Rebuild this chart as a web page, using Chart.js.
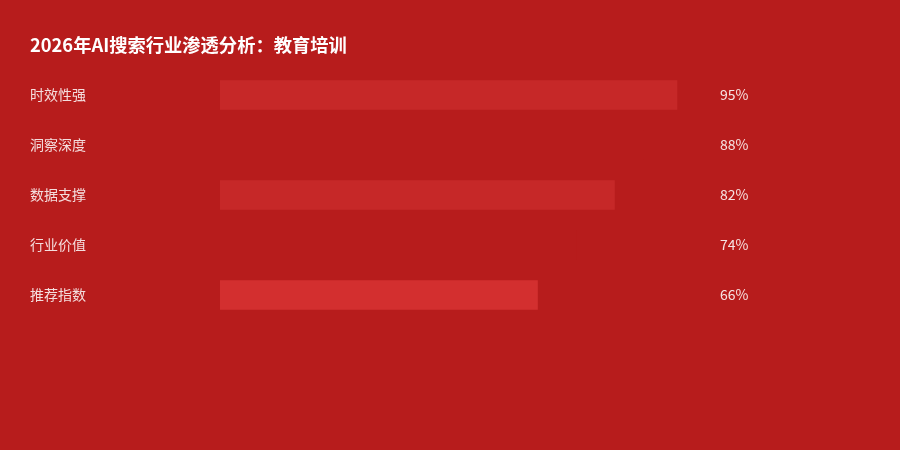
<!DOCTYPE html>
<html>
<head>
<meta charset="utf-8">
<script src="https://cdn.jsdelivr.net/npm/chart.js@4.4.1/dist/chart.umd.min.js"></script>
<style>
  html, body { margin: 0; padding: 0; background: #B71C1C; }
  #wrap { width: 900px; height: 450px; position: relative; }
</style>
</head>
<body>
<div id="wrap"><canvas id="c" width="900" height="450"></canvas></div>
<script>
const titleText = '2026年AI搜索行业渗透分析：教育培训';
const categories = ['时效性强', '洞察深度', '数据支撑', '行业价值', '推荐指数'];
const values = [95, 88, 82, 74, 66];
const barColors = ['#C62828', '#B71C1C', '#C62828', '#B71C1C', '#D32F2F'];

const FONT = '"Noto Sans CJK SC", "Noto Sans", sans-serif';

const valueLabels = {
  id: 'valueLabels',
  afterDatasetsDraw(chart) {
    const ctx = chart.ctx;
    const meta = chart.getDatasetMeta(0);
    const area = chart.chartArea;
    ctx.save();
    ctx.font = '14px ' + FONT;
    ctx.fillStyle = 'rgba(255,255,255,0.88)';
    ctx.textAlign = 'left';
    ctx.textBaseline = 'middle';
    meta.data.forEach((bar, i) => {
      ctx.fillText(values[i] + '%', area.right + 19, bar.y);
    });
    ctx.restore();
  }
};

new Chart(document.getElementById('c'), {
  type: 'bar',
  data: {
    labels: categories,
    datasets: [{
      data: values,
      backgroundColor: barColors,
      borderWidth: 0,
      barThickness: 29
    }]
  },
  options: {
    indexAxis: 'y',
    responsive: false,
    animation: false,
    layout: { padding: { left: 30, right: 199, top: 0, bottom: 130 } },
    plugins: {
      legend: { display: false },
      tooltip: { enabled: false },
      title: {
        display: true,
        text: titleText,
        align: 'start',
        color: '#FFFFFF',
        font: { family: FONT, size: 18.3, weight: 'bold' },
        padding: { top: 34, bottom: 14 }
      }
    },
    scales: {
      x: {
        display: false,
        min: 0,
        max: 100
      },
      y: {
        grid: { display: false },
        border: { display: false },
        ticks: {
          color: 'rgba(255,255,255,0.85)',
          font: { family: FONT, size: 14 },
          crossAlign: 'far',
          padding: 0
        },
        afterFit(scale) { scale.width = 190; }
      }
    }
  },
  plugins: [valueLabels]
});
</script>
</body>
</html>
